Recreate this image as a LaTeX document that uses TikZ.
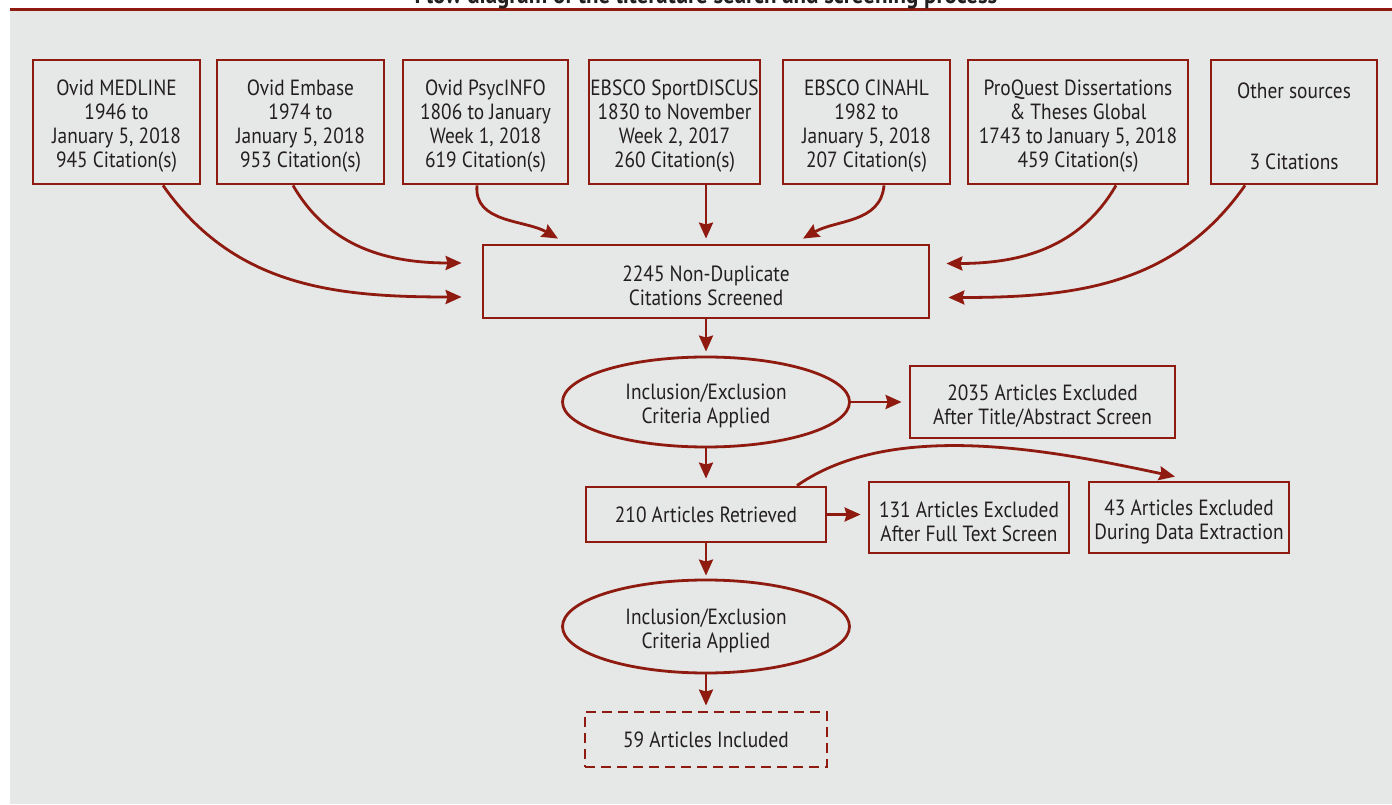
\documentclass[tikz,border=0pt]{standalone}
\usepackage{fontspec}
\setmainfont{PT Sans}[FakeStretch=0.88]
\usetikzlibrary{arrows.meta,calc,shapes.geometric}
\definecolor{dred}{HTML}{8E1A10}
\definecolor{bg}{HTML}{E6E8E7}
\definecolor{txt}{HTML}{231F20}
\newdimen\pu \pu=0.75pt
\newcommand\lowr{\rule{0pt}{18pt}}
\begin{document}
\begin{tikzpicture}[x=0.75pt,y=0.75pt,
  font=\fontsize{16.5}{17.8}\selectfont, text=txt,
  box/.style={draw=dred, line width=2.1pt, align=center, inner sep=0pt},
  ell/.style={ellipse, draw=dred, line width=2.1pt, align=center, inner sep=0pt},
  arr/.style={draw=dred, line width=2.1pt, -{Stealth[length=12pt,width=10.5pt,inset=1.5pt]}}]
\useasboundingbox (0,0) rectangle (1392,804);
\clip (0,0) rectangle (1392,804);
\fill[bg] (10,0) rectangle (1392,793);
\draw[dred, line width=2.6pt] (10,794.5) -- (1392,794.5);
\node[font=\bfseries\fontsize{19.5}{22}\selectfont, anchor=base] (title) at (706,800.5) {Flow diagram of the literature search and screening process};
% top sources
\node[box, minimum width=167\pu, minimum height=124\pu] (b1) at (116.5,682) {\lowr Ovid MEDLINE\\1946 to\\January 5, 2018\\945 Citation(s)};
\node[box, minimum width=167\pu, minimum height=124\pu] (b2) at (300.5,682) {\lowr Ovid Embase\\1974 to\\January 5, 2018\\953 Citation(s)};
\node[box, minimum width=165\pu, minimum height=124\pu] (b3) at (485.5,682) {\lowr Ovid PsycINFO\\1806 to January\\Week 1, 2018\\619 Citation(s)};
\node[box, minimum width=171\pu, minimum height=124\pu] (b4) at (674.5,682) {\lowr EBSCO SportDISCUS\\1830 to November\\Week 2, 2017\\260 Citation(s)};
\node[box, minimum width=167\pu, minimum height=124\pu] (b5) at (866.5,682) {\lowr EBSCO CINAHL\\1982 to\\January 5, 2018\\207 Citation(s)};
\node[box, minimum width=220\pu, minimum height=124\pu] (b6) at (1078,682) {\lowr ProQuest Dissertations\\\& Theses Global\\1743 to January 5, 2018\\459 Citation(s)};
\node[box, minimum width=166\pu, minimum height=124\pu] (b7) at (1294,682) {\lowr Other sources\\[2\baselineskip]3 Citations};
% middle
\node[box, minimum width=446\pu, minimum height=73\pu] (mid) at (706,522.5) {\lowr 2245 Non-Duplicate\\Citations Screened};
\node[ell, minimum width=287\pu, minimum height=90\pu] (e1) at (706,402) {\lowr Inclusion/Exclusion\\Criteria Applied};
\node[box, minimum width=265\pu, minimum height=72\pu] (x1) at (1042.5,402) {\lowr 2035 Articles Excluded\\After Title/Abstract Screen};
\node[box, minimum width=240\pu, minimum height=55\pu] (r) at (706,289.5) {210 Articles Retrieved};
\node[box, minimum width=200\pu, minimum height=71\pu] (x2) at (969,286.5) {\lowr 131 Articles Excluded\\After Full Text Screen};
\node[box, minimum width=200\pu, minimum height=71\pu] (x3) at (1189,286.5) {\lowr 43 Articles Excluded\\During Data Extraction};
\node[ell, minimum width=287\pu, minimum height=93\pu] (e2) at (706,177.5) {\lowr Inclusion/Exclusion\\Criteria Applied};
\node[box, dashed, dash pattern=on 7.5pt off 4.5pt, minimum width=242\pu, minimum height=55\pu] (inc) at (706,64.5) {59 Articles Included};
% connector ends
\coordinate (s1) at ($(b1.south)+(46.5,0)$);
\coordinate (s2) at ($(b2.south)+(-7.5,0)$);
\coordinate (s3) at ($(b3.south)+(-8.5,0)$);
\coordinate (s4) at ($(b4.south)+(31.5,0)$);
\coordinate (s5) at ($(b5.south)+(17.5,0)$);
\coordinate (s6) at ($(b6.south)+(38,0)$);
\coordinate (s7) at ($(b7.south)+(-49,0)$);
\coordinate (t1) at ($(mid.west)+(-20,-15.5)$);
\coordinate (t2) at ($(mid.west)+(-20,18.5)$);
\coordinate (t3) at ($(mid.north)+(-148,5)$);
\coordinate (t4) at ($(mid.north)+(0,5)$);
\coordinate (t5) at ($(mid.north)+(97,5)$);
\coordinate (t6) at ($(mid.east)+(16,18)$);
\coordinate (t7) at ($(mid.east)+(18,-16)$);
\coordinate (s8) at ($(r.north)+(91,0)$);
\coordinate (t8) at ($(x3.north)+(-14,4)$);
% connectors
\draw[arr] (s1) to[out=-55,in=180] (t1);
\draw[arr] (s2) to[out=-60,in=180] (t2);
\draw[arr] (s3) to[out=-95,in=150] (t3);
\draw[arr] (s4) -- (t4);
\draw[arr] (s5) to[out=-95,in=30] (t5);
\draw[arr] (s6) to[out=-120,in=0] (t6);
\draw[arr] (s7) to[out=-125,in=0] (t7);
\draw[arr, shorten >=4\pu] (mid) -- (e1);
\draw[arr, shorten >=7\pu] (e1) -- (x1);
\draw[arr, shorten >=7\pu] (e1) -- (r);
\draw[arr, shorten >=7\pu] (r.east) -- (r.east -| x2.west);
\draw[arr] (s8) to[out=35,in=168,looseness=0.8] (t8);
\draw[arr, shorten >=3\pu] (r) -- (e2);
\draw[arr, shorten >=5\pu] (e2) -- (inc);
\end{tikzpicture}
\end{document}
